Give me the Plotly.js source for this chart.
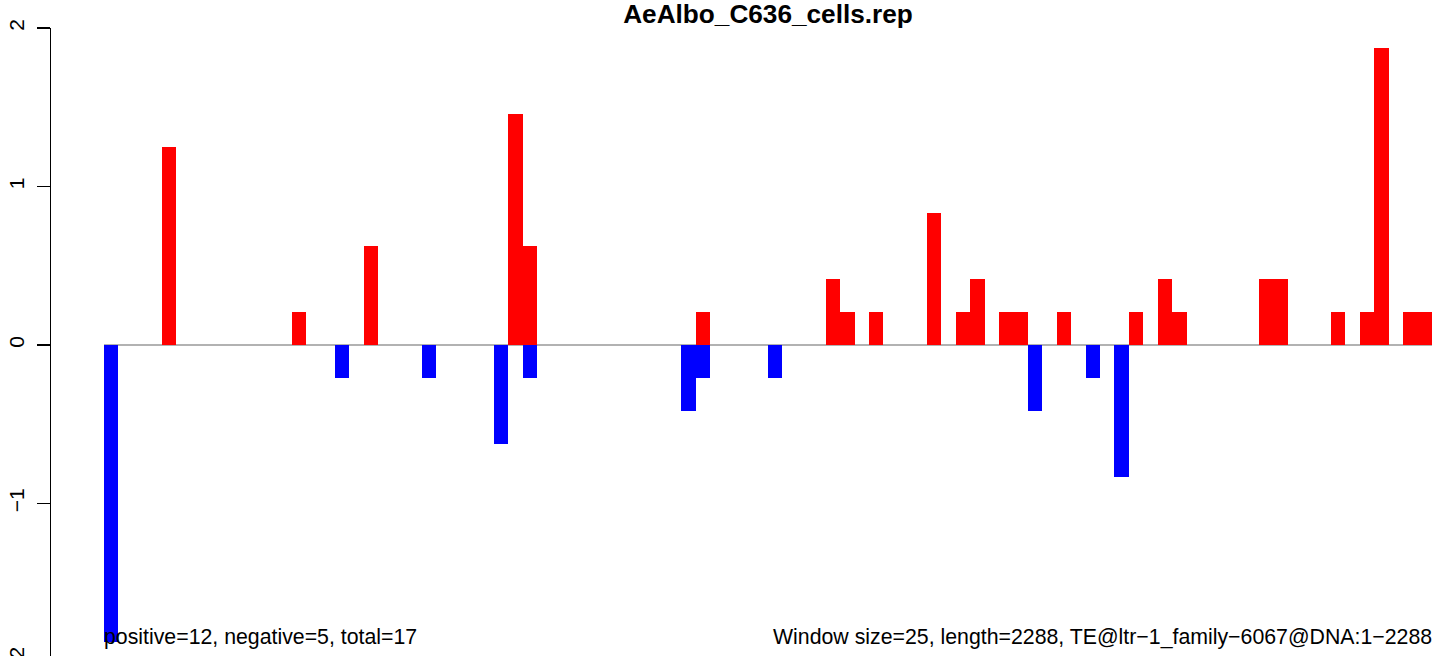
<!DOCTYPE html>
<html>
<head>
<meta charset="utf-8">
<script src="https://cdn.plot.ly/plotly-3.0.1.min.js"></script>
<style>
html, body { margin: 0; padding: 0; overflow: hidden; background: #fff; }
#chart { width: 1444px; height: 700px; }
</style>
</head>
<body>
<div id="chart"></div>
<script>
// Chart data (one value per 25-bp window, 92 windows)
const titleText = "AeAlbo_C636_cells.rep";
const windowCount = 92;
const positiveValues = [
  0, 0, 0, 0, 1.25, 0, 0, 0, 0, 0,
  0, 0, 0, 0.208, 0, 0, 0, 0, 0.625, 0,
  0, 0, 0, 0, 0, 0, 0, 0, 1.458, 0.625,
  0, 0, 0, 0, 0, 0, 0, 0, 0, 0,
  0, 0.208, 0, 0, 0, 0, 0, 0, 0, 0,
  0.417, 0.208, 0, 0.208, 0, 0, 0, 0.833, 0, 0.208,
  0.417, 0, 0.208, 0.208, 0, 0, 0.208, 0, 0, 0,
  0, 0.208, 0, 0.417, 0.208, 0, 0, 0, 0, 0,
  0.417, 0.417, 0, 0, 0, 0.208, 0, 0.208, 1.875, 0,
  0.208, 0.208
];
const negativeValues = [
  -1.875, 0, 0, 0, 0, 0, 0, 0, 0, 0,
  0, 0, 0, 0, 0, 0, -0.208, 0, 0, 0,
  0, 0, -0.208, 0, 0, 0, 0, -0.625, 0, -0.208,
  0, 0, 0, 0, 0, 0, 0, 0, 0, 0,
  -0.417, -0.208, 0, 0, 0, 0, -0.208, 0, 0, 0,
  0, 0, 0, 0, 0, 0, 0, 0, 0, 0,
  0, 0, 0, 0, -0.417, 0, 0, 0, -0.208, 0,
  -0.833, 0, 0, 0, 0, 0, 0, 0, 0, 0,
  0, 0, 0, 0, 0, 0, 0, 0, 0, 0,
  0, 0
];
const yTickValues = [-2, -1, 0, 1, 2];
const leftNote = "positive=12, negative=5, total=17";
const rightNote = "Window size=25, length=2288, TE@ltr\u22121_family\u22126067@DNA:1\u22122288";

const windows = positiveValues.map((_, i) => i);
const FONT = "Liberation Sans, Arial, Helvetica, sans-serif";

const traces = [
  { type: "bar", x: windows, y: positiveValues, width: 1,
    marker: { color: "#FF0000", line: { width: 0 } }, hoverinfo: "x+y", showlegend: false },
  { type: "bar", x: windows, y: negativeValues, width: 1,
    marker: { color: "#0000FF", line: { width: 0 } }, hoverinfo: "x+y", showlegend: false }
];

const layout = {
  width: 1444, height: 700,
  margin: { l: 51, r: 0, t: 28, b: 38, pad: 0 },
  paper_bgcolor: "#ffffff", plot_bgcolor: "#ffffff",
  barmode: "overlay", bargap: 0,
  font: { family: FONT, size: 21, color: "#000" },
  title: {
    text: titleText,
    font: { family: FONT, size: 26.2, weight: "bold", color: "#000" },
    xref: "container", x: 768 / 1444, xanchor: "center",
    yref: "container", y: 1 - 13.5 / 700, yanchor: "middle"
  },
  xaxis: {
    range: [-0.5 - 53 / 14.435, -0.5 + 1340 / 14.435],
    showline: false, showgrid: false, zeroline: false,
    showticklabels: false, ticks: "", fixedrange: true
  },
  yaxis: {
    range: [-2, 2],
    tickvals: yTickValues,
    ticks: "outside", ticklen: 13, tickwidth: 1.3, tickcolor: "#000",
    tickangle: -90, ticklabelstandoff: 4,
    tickfont: { family: FONT, size: 21, color: "#000" },
    showline: true, linecolor: "#000", linewidth: 1.3,
    showgrid: false, zeroline: false, fixedrange: true
  },
  shapes: [
    { type: "line", xref: "x", yref: "y", x0: -0.5, x1: windowCount - 0.5, y0: 0, y1: 0,
      line: { color: "#999999", width: 1.6 }, layer: "below" }
  ],
  annotations: [
    { text: leftNote, xref: "x", yref: "y", x: -0.5, y: -1.845,
      xanchor: "left", yanchor: "middle", xshift: -2, showarrow: false,
      font: { family: FONT, size: 21.3, color: "#000" } },
    { text: rightNote, xref: "x", yref: "y", x: windowCount - 0.5, y: -1.845,
      xanchor: "right", yanchor: "middle", xshift: 2, showarrow: false,
      font: { family: FONT, size: 21.3, color: "#000" } }
  ]
};

Plotly.newPlot("chart", traces, layout, { displayModeBar: false, staticPlot: true });
</script>
</body>
</html>
